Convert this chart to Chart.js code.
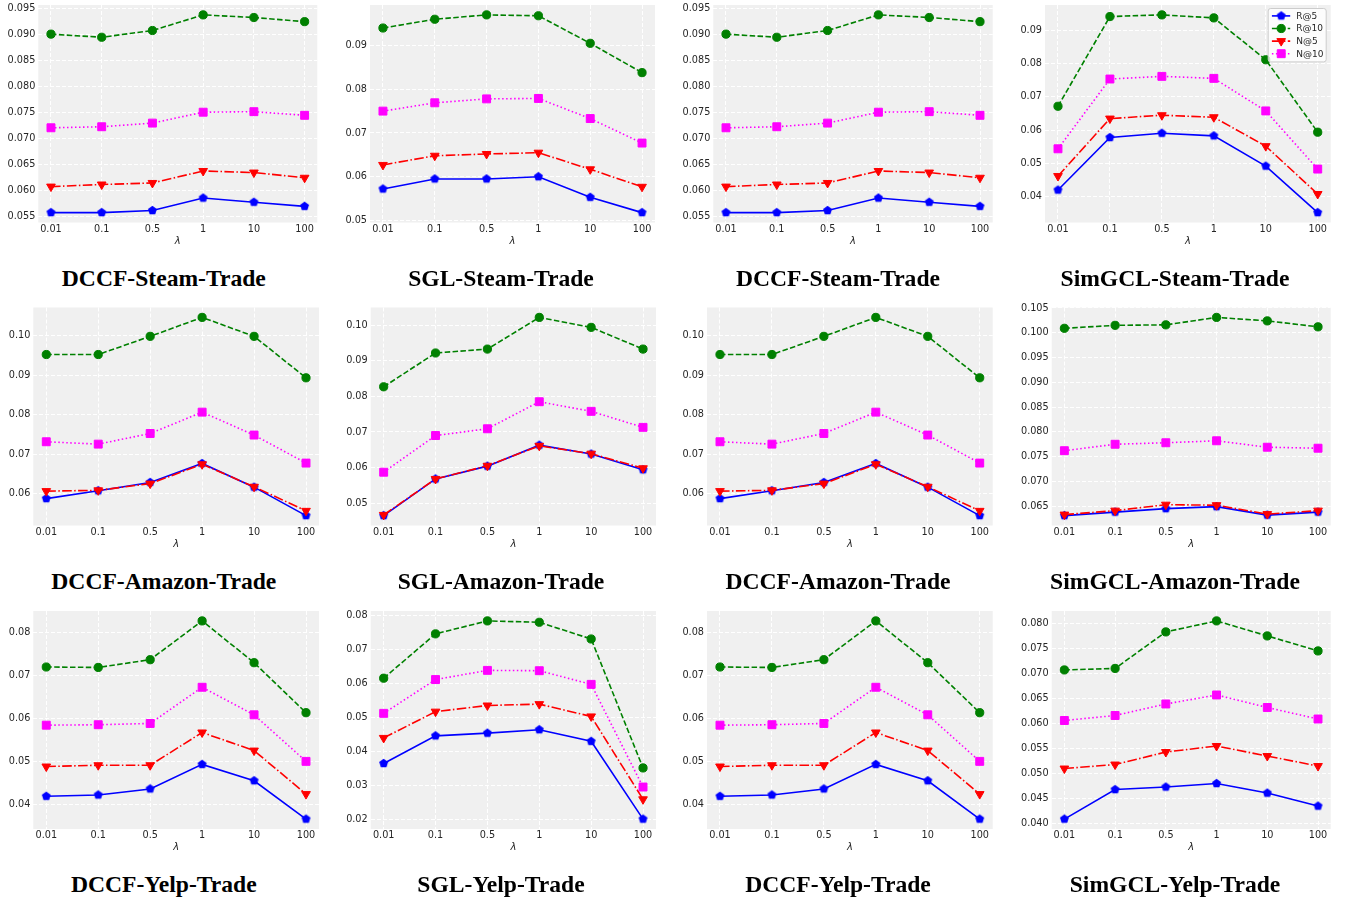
<!DOCTYPE html>
<html>
<head>
<meta charset="utf-8">
<title>λ sensitivity</title>
<script src="https://cdn.jsdelivr.net/npm/chart.js@4.4.1/dist/chart.umd.min.js"></script>
<style>
  html, body { margin: 0; padding: 0; background: #ffffff; }
  #fig { position: relative; width: 1347px; height: 903px; overflow: hidden; background: #ffffff; }
  #fig canvas { position: absolute; }
  .cap {
    position: absolute; width: 336px; text-align: center; white-space: nowrap;
    font-family: 'Liberation Serif', 'Times New Roman', serif; font-weight: bold;
    font-size: 23.6px; line-height: 24px; color: #000;
  }
</style>
</head>
<body>
<div id="fig"></div>
<script>
// ---- categories and series -------------------------------------------------
const LAMBDAS = ['0.01', '0.1', '0.5', '1', '10', '100'];
const SERIES = ['R@5', 'R@10', 'N@5', 'N@10'];

// ---- values: rows follow SERIES (R@5, R@10, N@5, N@10) ---------------------
const DCCF_STEAM = [
  [0.0558, 0.0558, 0.0562, 0.0586, 0.0578, 0.0570],
  [0.0901, 0.0895, 0.0908, 0.0938, 0.0933, 0.0925],
  [0.0608, 0.0612, 0.0615, 0.0638, 0.0635, 0.0625],
  [0.0721, 0.0723, 0.0730, 0.0751, 0.0752, 0.0745]
];
const SGL_STEAM = [
  [0.0572, 0.0595, 0.0595, 0.0600, 0.0553, 0.0518],
  [0.0940, 0.0960, 0.0970, 0.0968, 0.0905, 0.0838],
  [0.0627, 0.0648, 0.0652, 0.0655, 0.0617, 0.0577],
  [0.0750, 0.0769, 0.0778, 0.0779, 0.0733, 0.0677]
];
const SIMGCL_STEAM = [
  [0.0420, 0.0578, 0.0591, 0.0583, 0.0492, 0.0352],
  [0.0672, 0.0942, 0.0947, 0.0938, 0.0812, 0.0594],
  [0.0462, 0.0635, 0.0645, 0.0639, 0.0552, 0.0408],
  [0.0544, 0.0754, 0.0762, 0.0756, 0.0658, 0.0483]
];
const DCCF_AMAZON = [
  [0.0587, 0.0607, 0.0628, 0.0676, 0.0616, 0.0544],
  [0.0952, 0.0952, 0.0998, 0.1046, 0.0998, 0.0893],
  [0.0606, 0.0608, 0.0625, 0.0674, 0.0617, 0.0556],
  [0.0731, 0.0725, 0.0752, 0.0806, 0.0748, 0.0677]
];
const SGL_AMAZON = [
  [0.0465, 0.0568, 0.0604, 0.0663, 0.0638, 0.0594],
  [0.0827, 0.0922, 0.0933, 0.1022, 0.0994, 0.0933],
  [0.0467, 0.0568, 0.0605, 0.0661, 0.0639, 0.0598],
  [0.0587, 0.0690, 0.0709, 0.0785, 0.0758, 0.0713]
];
const SIMGCL_AMAZON = [
  [0.0631, 0.0638, 0.0645, 0.0649, 0.0632, 0.0638],
  [0.1009, 0.1015, 0.1016, 0.1031, 0.1024, 0.1012],
  [0.0633, 0.0641, 0.0653, 0.0652, 0.0634, 0.0641],
  [0.0762, 0.0775, 0.0778, 0.0782, 0.0769, 0.0767]
];
const DCCF_YELP = [
  [0.0420, 0.0423, 0.0437, 0.0494, 0.0456, 0.0367],
  [0.0720, 0.0719, 0.0737, 0.0827, 0.0730, 0.0614],
  [0.0489, 0.0492, 0.0492, 0.0568, 0.0526, 0.0425],
  [0.0585, 0.0586, 0.0589, 0.0673, 0.0609, 0.0501]
];
const SGL_YELP = [
  [0.0365, 0.0446, 0.0454, 0.0464, 0.0430, 0.0202],
  [0.0615, 0.0745, 0.0783, 0.0779, 0.0730, 0.0352],
  [0.0440, 0.0517, 0.0535, 0.0539, 0.0503, 0.0260],
  [0.0512, 0.0611, 0.0638, 0.0637, 0.0597, 0.0296]
];
const SIMGCL_YELP = [
  [0.0409, 0.0468, 0.0473, 0.0480, 0.0461, 0.0435],
  [0.0707, 0.0710, 0.0783, 0.0805, 0.0775, 0.0745],
  [0.0510, 0.0518, 0.0543, 0.0555, 0.0535, 0.0515],
  [0.0606, 0.0616, 0.0639, 0.0657, 0.0632, 0.0609]
];

// ---- y tick labels ---------------------------------------------------------
const Y_DCCF_STEAM   = ['0.055', '0.060', '0.065', '0.070', '0.075', '0.080', '0.085', '0.090', '0.095'];
const Y_SGL_STEAM    = ['0.05', '0.06', '0.07', '0.08', '0.09'];
const Y_SIMGCL_STEAM = ['0.04', '0.05', '0.06', '0.07', '0.08', '0.09'];
const Y_DCCF_AMAZON  = ['0.06', '0.07', '0.08', '0.09', '0.10'];
const Y_SGL_AMAZON   = ['0.05', '0.06', '0.07', '0.08', '0.09', '0.10'];
const Y_SIMGCL_AMAZON = ['0.065', '0.070', '0.075', '0.080', '0.085', '0.090', '0.095', '0.100', '0.105'];
const Y_DCCF_YELP    = ['0.04', '0.05', '0.06', '0.07', '0.08'];
const Y_SGL_YELP     = ['0.02', '0.03', '0.04', '0.05', '0.06', '0.07', '0.08'];
const Y_SIMGCL_YELP  = ['0.040', '0.045', '0.050', '0.055', '0.060', '0.065', '0.070', '0.075', '0.080'];

// ---- panel grid: 3 rows x 4 columns ----------------------------------------
const PANELS = [
  [
    { title: 'DCCF-Steam-Trade',   values: DCCF_STEAM,   yLabels: Y_DCCF_STEAM },
    { title: 'SGL-Steam-Trade',    values: SGL_STEAM,    yLabels: Y_SGL_STEAM },
    { title: 'DCCF-Steam-Trade',   values: DCCF_STEAM,   yLabels: Y_DCCF_STEAM },
    { title: 'SimGCL-Steam-Trade', values: SIMGCL_STEAM, yLabels: Y_SIMGCL_STEAM, legend: true }
  ],
  [
    { title: 'DCCF-Amazon-Trade',   values: DCCF_AMAZON,   yLabels: Y_DCCF_AMAZON },
    { title: 'SGL-Amazon-Trade',    values: SGL_AMAZON,    yLabels: Y_SGL_AMAZON },
    { title: 'DCCF-Amazon-Trade',   values: DCCF_AMAZON,   yLabels: Y_DCCF_AMAZON },
    { title: 'SimGCL-Amazon-Trade', values: SIMGCL_AMAZON, yLabels: Y_SIMGCL_AMAZON }
  ],
  [
    { title: 'DCCF-Yelp-Trade',   values: DCCF_YELP,   yLabels: Y_DCCF_YELP },
    { title: 'SGL-Yelp-Trade',    values: SGL_YELP,    yLabels: Y_SGL_YELP },
    { title: 'DCCF-Yelp-Trade',   values: DCCF_YELP,   yLabels: Y_DCCF_YELP },
    { title: 'SimGCL-Yelp-Trade', values: SIMGCL_YELP, yLabels: Y_SIMGCL_YELP }
  ]
];

// ---- page layout (plot boxes in page pixels) -------------------------------
const ROW_TOP_BOTTOM = [[5, 222.5], [307.5, 525.5], [611, 829]];
const COL_LEFT_RIGHT = [
  [[38.3, 317.3], [370, 655], [713.3, 992.7], [1045, 1330.7]],
  [[33.3, 319], [370.7, 656], [707, 992.7], [1051.7, 1330.7]],
  [[33.3, 319], [370.7, 656], [707, 992.7], [1051.7, 1330.7]]
];
const CAPTION_X = [163.8, 501, 838, 1175];
const CAPTION_BASELINE = [285.7, 588.7, 892];
const LAMBDA_LABEL_GAP = 18.5;   // from plot bottom to centre of the λ label

const TICK_COLOR = '#262626';
const PLOT_BG = '#f0f0f0';
Chart.defaults.font.family = "'DejaVu Sans', 'Liberation Sans', sans-serif";

// pentagon marker (Chart.js has no built-in pentagon)
function pentagonMarker(color, r) {
  const s = Math.ceil(2 * r + 3);
  const c = document.createElement('canvas');
  c.width = s; c.height = s;
  const g = c.getContext('2d');
  g.beginPath();
  for (let k = 0; k < 5; k++) {
    const a = -Math.PI / 2 + k * 2 * Math.PI / 5;
    const px = s / 2 + r * Math.cos(a), py = s / 2 + r * Math.sin(a);
    if (k === 0) g.moveTo(px, py); else g.lineTo(px, py);
  }
  g.closePath();
  g.fillStyle = color;
  g.fill();
  return c;
}

const SERIES_STYLE = [
  { color: '#0000ff', dash: [],                   point: pentagonMarker('#0000ff', 4.7), radius: 4.7, rotation: 0 },
  { color: '#008000', dash: [5.5, 2.4],           point: 'circle',   radius: 4.1, rotation: 0 },
  { color: '#ff0000', dash: [9.6, 2.4, 1.5, 2.4], point: 'triangle', radius: 5.0, rotation: 180 },
  { color: '#ff00ff', dash: [1.5, 2.5],           point: 'rect',     radius: 5.6, rotation: 0 }
];

// grey plotting area
const plotBackground = {
  id: 'plotBackground',
  beforeDraw(chart) {
    const { ctx, chartArea: a } = chart;
    ctx.save();
    ctx.fillStyle = PLOT_BG;
    ctx.fillRect(a.left, a.top, a.right - a.left, a.bottom - a.top);
    ctx.restore();
  }
};

// framed legend in the upper-right corner of the plotting area
const cornerLegend = {
  id: 'cornerLegend',
  afterDraw(chart, args, opts) {
    if (!opts || !opts.show) return;
    const { ctx, chartArea: a } = chart;
    const w = 58, h = 53.4;
    const x0 = a.right - 4.5 - w, y0 = a.top + 3.5;
    ctx.save();
    ctx.beginPath();
    if (ctx.roundRect) ctx.roundRect(x0, y0, w, h, 2.5); else ctx.rect(x0, y0, w, h);
    ctx.fillStyle = 'rgba(255,255,255,0.8)';
    ctx.fill();
    ctx.strokeStyle = '#cccccc';
    ctx.lineWidth = 1;
    ctx.stroke();
    chart.data.datasets.forEach((ds, i) => {
      const y = y0 + 7.4 + i * 12.6;
      ctx.strokeStyle = ds.borderColor;
      ctx.lineWidth = ds.borderWidth;
      ctx.setLineDash(ds.borderDash || []);
      ctx.beginPath();
      ctx.moveTo(x0 + 3.7, y);
      ctx.lineTo(x0 + 22, y);
      ctx.stroke();
      ctx.setLineDash([]);
      ctx.fillStyle = ds.pointBackgroundColor;
      ctx.strokeStyle = ds.pointBorderColor;
      ctx.lineWidth = ds.pointBorderWidth;
      Chart.helpers.drawPoint(ctx, {
        pointStyle: ds.pointStyle, radius: ds.pointRadius,
        rotation: ds.pointRotation, borderWidth: ds.pointBorderWidth
      }, x0 + 13, y);
      ctx.fillStyle = TICK_COLOR;
      ctx.font = "9px 'DejaVu Sans', sans-serif";
      ctx.textAlign = 'left';
      ctx.textBaseline = 'middle';
      ctx.fillText(ds.label, x0 + 28, y + 0.5);
    });
    ctx.restore();
  }
};

const fig = document.getElementById('fig');

PANELS.forEach((row, r) => {
  const [T, B] = ROW_TOP_BOTTOM[r];
  row.forEach((panel, c) => {
    const [L, R] = COL_LEFT_RIGHT[r][c];

    // canvas placed on whole pixels; fractional edges go into the paddings
    const cx = Math.floor(L) - 45;
    const cy = Math.floor(T) - 10;
    const cw = Math.ceil(R) + 10 - cx;
    const lambdaY = B + LAMBDA_LABEL_GAP;
    const ch = Math.ceil(lambdaY + 7) - cy;
    const yAxisW = L - cx;
    const padTop = T - cy;
    const padRight = cw - (R - cx);
    const xAxisH = ch - (B - cy);
    const lambdaPadBottom = (cy + ch) - lambdaY - 6;

    const canvas = document.createElement('canvas');
    canvas.width = cw; canvas.height = ch;
    canvas.style.left = cx + 'px';
    canvas.style.top = cy + 'px';
    canvas.style.width = cw + 'px';
    canvas.style.height = ch + 'px';
    fig.appendChild(canvas);

    const all = panel.values.flat();
    const lo = Math.min(...all), hi = Math.max(...all);
    const margin = (hi - lo) * 0.05;
    const yTickValues = panel.yLabels.map(Number);

    const datasets = SERIES.map((name, i) => {
      const st = SERIES_STYLE[i];
      return {
        label: name,
        data: panel.values[i].map((v, k) => ({ x: k, y: v })),
        borderColor: st.color,
        backgroundColor: st.color,
        borderWidth: 1.6,
        borderDash: st.dash,
        borderCapStyle: 'butt',
        pointStyle: st.point,
        pointRadius: st.radius,
        pointRotation: st.rotation,
        pointBackgroundColor: st.color,
        pointBorderColor: st.color,
        pointBorderWidth: st.point === 'circle' || st.point === 'rect' || st.point === 'triangle' ? 1 : 0,
        tension: 0,
        fill: false,
        order: SERIES.length - 1 - i
      };
    });

    new Chart(canvas, {
      type: 'line',
      data: { datasets },
      plugins: [plotBackground, cornerLegend],
      options: {
        responsive: false,
        maintainAspectRatio: false,
        devicePixelRatio: 1,
        animation: false,
        events: [],
        layout: { padding: { top: padTop, right: padRight, left: 0, bottom: 0 } },
        plugins: {
          legend: { display: false },
          tooltip: { enabled: false },
          cornerLegend: { show: !!panel.legend }
        },
        scales: {
          x: {
            type: 'linear',
            min: -0.25,
            max: LAMBDAS.length - 1 + 0.25,
            afterBuildTicks: s => { s.ticks = LAMBDAS.map((_, k) => ({ value: k })); },
            afterFit: s => { s.height = xAxisH; },
            ticks: {
              callback: (v, k) => LAMBDAS[k],
              color: TICK_COLOR,
              font: { size: 9.7 },
              padding: 1,
              maxRotation: 0,
              autoSkip: false
            },
            grid: { color: '#ffffff', lineWidth: 1, drawTicks: false },
            border: { display: false, dash: [4, 2] },
            title: {
              display: true,
              text: 'λ',
              color: TICK_COLOR,
              font: { size: 10, style: 'italic' },
              padding: { top: 0, bottom: lambdaPadBottom }
            }
          },
          y: {
            type: 'linear',
            min: lo - margin,
            max: hi + margin,
            afterBuildTicks: s => { s.ticks = yTickValues.map(v => ({ value: v })); },
            afterFit: s => { s.width = yAxisW; },
            ticks: {
              callback: (v, k) => panel.yLabels[k],
              color: TICK_COLOR,
              font: { size: 9.7 },
              padding: 3,
              autoSkip: false
            },
            grid: { color: '#ffffff', lineWidth: 1, drawTicks: false },
            border: { display: false, dash: [4, 2] }
          }
        }
      }
    });

    const cap = document.createElement('div');
    cap.className = 'cap';
    cap.textContent = panel.title;
    cap.style.left = (CAPTION_X[c] - 168) + 'px';
    cap.style.top = (CAPTION_BASELINE[r] - 20) + 'px';
    fig.appendChild(cap);
  });
});
</script>
</body>
</html>
